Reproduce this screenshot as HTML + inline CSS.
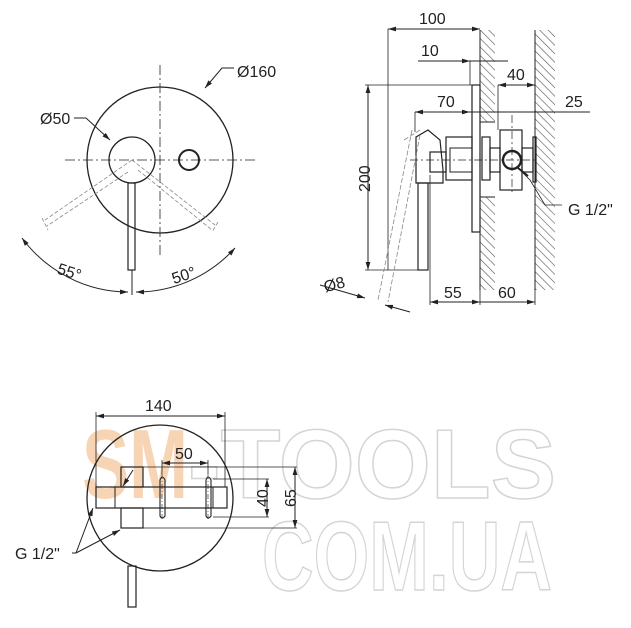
<!DOCTYPE html>
<html><head><meta charset="utf-8"><style>
html,body{margin:0;padding:0;background:#fff;}
svg{display:block;font-family:"Liberation Sans",sans-serif;}
</style></head><body>
<svg width="631" height="628" viewBox="0 0 631 628" xmlns="http://www.w3.org/2000/svg">
<defs>
<pattern id="h" width="6" height="6" patternUnits="userSpaceOnUse" patternTransform="rotate(-45)">
<line x1="0" y1="0" x2="0" y2="6" stroke="#555" stroke-width="1.2"/>
</pattern>
<marker id="a" viewBox="0 0 10 6" refX="10" refY="3" markerWidth="8" markerHeight="5" orient="auto-start-reverse"><path d="M0,0L10,3L0,6z" fill="#222"/></marker>
</defs>

<!-- watermark -->
<g font-weight="bold" font-size="98">
<text x="82" y="498" fill="#f7d4b4" textLength="106" lengthAdjust="spacingAndGlyphs">SM</text>
<text x="188" y="498" fill="none" stroke="#d4d4d4" stroke-width="1.5" textLength="368" lengthAdjust="spacingAndGlyphs">-TOOLS</text>
<text x="262" y="590" fill="none" stroke="#d4d4d4" stroke-width="1.5" textLength="290" lengthAdjust="spacingAndGlyphs">COM.UA</text>
</g>

<g stroke="#222" fill="none" stroke-width="1">
<!-- VIEW 1 -->
<line x1="65" y1="160" x2="255" y2="160" stroke-dasharray="10,3,2,3" stroke-width="0.8"/>
<line x1="160" y1="65" x2="160" y2="255" stroke-dasharray="10,3,2,3" stroke-width="0.8"/>
<circle cx="160" cy="160" r="73" stroke-width="1.3"/>
<circle cx="132" cy="160" r="23" stroke-width="1.3"/>
<circle cx="189" cy="160" r="10" stroke-width="2"/>
<rect x="128" y="183" width="7" height="87" stroke-width="1.2"/>
<line x1="132" y1="270" x2="132" y2="295"/>
<g stroke="#888" stroke-dasharray="4,2" stroke-width="0.8">
<path d="M132,160 L45,220 M128,172 L47,226 M42,218 L48,230"/>
<path d="M132,160 L215,225 M138,170 L212,230 M218,222 L212,232"/>
</g>
<path d="M22,238 A133,133 0 0 0 128,292" marker-start="url(#a)" marker-end="url(#a)"/>
<path d="M136,292 A133,133 0 0 0 235,248" marker-start="url(#a)" marker-end="url(#a)"/>
<path d="M234,68 L222,68 L205,88" marker-end="url(#a)"/>
<path d="M74,118 L86,118 L110,140" marker-end="url(#a)"/>

<!-- VIEW 2 -->
<rect x="480" y="30" width="15" height="92" fill="url(#h)" stroke="none"/>
<rect x="480" y="197" width="15" height="93" fill="url(#h)" stroke="none"/>
<path d="M480,30V122H495 M480,197V290 M480,197H495"/>
<rect x="535" y="30" width="20" height="260" fill="url(#h)" stroke="none"/>
<line x1="535" y1="30" x2="535" y2="290"/>
<line x1="388" y1="29" x2="480" y2="29" marker-start="url(#a)" marker-end="url(#a)"/>
<line x1="388" y1="29" x2="388" y2="270" stroke-width="0.8"/>
<line x1="418" y1="61" x2="470" y2="61" marker-end="url(#a)"/>
<line x1="470" y1="61" x2="508" y2="61"/>
<line x1="470" y1="61" x2="470" y2="85" stroke-width="0.8"/>
<line x1="498" y1="85" x2="535" y2="85" marker-start="url(#a)" marker-end="url(#a)"/>
<line x1="498" y1="85" x2="498" y2="130" stroke-width="0.8"/>
<line x1="415" y1="112" x2="470" y2="112" marker-start="url(#a)" marker-end="url(#a)"/>
<line x1="470" y1="112" x2="590" y2="112"/>
<line x1="415" y1="112" x2="415" y2="132" stroke-width="0.8"/>
<line x1="368" y1="85" x2="368" y2="270" marker-start="url(#a)" marker-end="url(#a)"/>
<line x1="365" y1="85" x2="480" y2="85" stroke-width="0.8"/>
<line x1="365" y1="270" x2="420" y2="270" stroke-width="0.8"/>
<line x1="430" y1="302" x2="480" y2="302" marker-start="url(#a)" marker-end="url(#a)"/>
<line x1="480" y1="302" x2="535" y2="302" marker-end="url(#a)"/>
<line x1="430" y1="175" x2="430" y2="305" stroke-width="0.8"/>
<line x1="480" y1="290" x2="480" y2="305" stroke-width="0.8"/>
<line x1="535" y1="290" x2="535" y2="305" stroke-width="0.8"/>
<line x1="320" y1="285" x2="365" y2="298" marker-end="url(#a)"/>
<line x1="410" y1="312" x2="385" y2="305" marker-end="url(#a)"/>
<rect x="472" y="85" width="8" height="147" stroke-width="1.2"/>
<path d="M416,137 L428,130 L440,140 L443,170 L443,183 L416,183 Z" stroke-width="1.2"/>
<rect x="430" y="152" width="16" height="20" stroke-width="1.2"/>
<rect x="446" y="137" width="26" height="43" stroke-width="1.2"/>
<rect x="450" y="148" width="22" height="24"/>
<rect x="482" y="137" width="8" height="43" stroke-width="1.2"/>
<rect x="490" y="148" width="10" height="24" stroke-width="1.2"/>
<rect x="500" y="130" width="22" height="60" stroke-width="1.2"/>
<rect x="522" y="148" width="11" height="24" stroke-width="1.2"/>
<rect x="533" y="137" width="3" height="45" stroke-width="1.2"/>
<circle cx="512" cy="160" r="9" stroke-width="2.4"/>
<line x1="410" y1="160" x2="535" y2="160" stroke-dasharray="8,3,2,3" stroke-width="0.7"/>
<line x1="512" y1="115" x2="512" y2="195" stroke-dasharray="8,3,2,3" stroke-width="0.7"/>
<rect x="418" y="183" width="10" height="87" stroke-width="1.2"/>
<g stroke="#888" stroke-dasharray="5,2" stroke-width="0.8"><path d="M412,130 L378,300 M420,135 L388,302 M404,140 L420,130"/></g>
<path d="M520,170 L530,180 L545,205 L562,205" stroke-width="0.8"/>
<path d="M518,168 L528,176" stroke-width="2"/>

<!-- VIEW 3 -->
<circle cx="160" cy="498" r="73" stroke-width="1.3"/>
<line x1="96" y1="416" x2="225" y2="416" marker-start="url(#a)" marker-end="url(#a)"/>
<line x1="96" y1="412" x2="96" y2="487" stroke-width="0.8"/>
<line x1="225" y1="412" x2="225" y2="487" stroke-width="0.8"/>
<rect x="121" y="467" width="22" height="20" stroke-width="1.2"/>
<rect x="96" y="487" width="131" height="21" stroke-width="1.2"/>
<line x1="115" y1="487" x2="115" y2="508"/>
<line x1="213" y1="487" x2="213" y2="508"/>
<rect x="121" y="508" width="22" height="20" stroke-width="1.2"/>
<g stroke-width="1.1">
<path d="M160,480 Q162,474 165,480 V516 Q162,520 160,516 Z"/>
<path d="M206,480 Q208,474 211,480 V516 Q208,520 206,516 Z"/>
<line x1="162" y1="474" x2="162" y2="520" stroke-dasharray="5,2,1,2" stroke-width="0.6"/>
<line x1="208" y1="474" x2="208" y2="520" stroke-dasharray="5,2,1,2" stroke-width="0.6"/>
</g>
<line x1="162" y1="463" x2="208" y2="463" marker-start="url(#a)" marker-end="url(#a)"/>
<line x1="162" y1="460" x2="162" y2="474" stroke-width="0.8"/>
<line x1="208" y1="460" x2="208" y2="474" stroke-width="0.8"/>
<line x1="143" y1="467" x2="297" y2="467" stroke-width="0.8"/>
<line x1="143" y1="528" x2="297" y2="528" stroke-width="0.8"/>
<line x1="213" y1="479" x2="269" y2="479" stroke-width="0.8"/>
<line x1="213" y1="517" x2="269" y2="517" stroke-width="0.8"/>
<line x1="267" y1="479" x2="267" y2="517" marker-start="url(#a)" marker-end="url(#a)"/>
<line x1="295" y1="467" x2="295" y2="528" marker-start="url(#a)" marker-end="url(#a)"/>
<rect x="128" y="566" width="8" height="41" stroke-width="1.2"/>
<line x1="76" y1="553" x2="93" y2="508" marker-end="url(#a)"/>
<line x1="76" y1="553" x2="120" y2="530" marker-end="url(#a)"/>
<line x1="76" y1="553" x2="72" y2="553"/>
<line x1="133" y1="470" x2="123" y2="486" marker-end="url(#a)"/>
</g>

<g font-size="16" fill="#222">
<text x="237" y="77">Ø160</text>
<text x="40" y="124">Ø50</text>
<text x="58" y="278" transform="rotate(18 72 270)">55°</text>
<text x="170" y="280" transform="rotate(-18 185 270)">50°</text>
<text x="419" y="24">100</text>
<text x="421" y="56">10</text>
<text x="507" y="80">40</text>
<text x="437" y="107">70</text>
<text x="565" y="107">25</text>
<text x="350" y="184" transform="rotate(-90 364 178)">200</text>
<text x="323" y="290" transform="rotate(-15 333 282)">Ø8</text>
<text x="444" y="298">55</text>
<text x="498" y="298">60</text>
<text x="568" y="215">G 1/2"</text>
<text x="145" y="411">140</text>
<text x="175" y="459">50</text>
<text x="253" y="504" transform="rotate(-90 262 498)">40</text>
<text x="281" y="504" transform="rotate(-90 290 498)">65</text>
<text x="15" y="559">G 1/2"</text>
</g>
</svg>
</body></html>
